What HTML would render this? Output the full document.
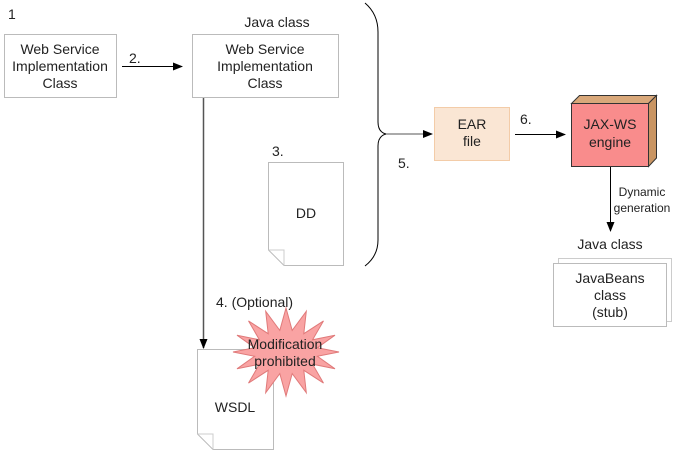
<!DOCTYPE html>
<html><head><meta charset="utf-8"><style>
html,body{margin:0;padding:0;background:#fff;}
svg{display:block;font-family:"Liberation Sans",Arial,sans-serif;}
</style></head><body>
<svg width="675" height="453" viewBox="0 0 675 453" xmlns="http://www.w3.org/2000/svg">
<defs>
<marker id="a" markerWidth="10" markerHeight="8" refX="9" refY="4" orient="auto" markerUnits="userSpaceOnUse">
<path d="M0,0 L10,4 L0,8 z" fill="#000"/></marker>
</defs>
<g font-size="14" fill="#222">
<text x="8" y="19">1</text>
<rect x="4.5" y="34.5" width="112" height="63" fill="#fff" stroke="#bbb"/>
<text x="60" y="54" text-anchor="middle">Web Service</text>
<text x="60" y="71" text-anchor="middle">Implementation</text>
<text x="60" y="88" text-anchor="middle">Class</text>
<text x="129" y="63">2.</text>
<line x1="122" y1="66.5" x2="182" y2="66.5" stroke="#000" marker-end="url(#a)"/>
<text x="277" y="27" text-anchor="middle">Java class</text>
<rect x="192.5" y="34.5" width="146" height="63" fill="#fff" stroke="#bbb"/>
<text x="265" y="54" text-anchor="middle">Web Service</text>
<text x="265" y="71" text-anchor="middle">Implementation</text>
<text x="265" y="88" text-anchor="middle">Class</text>
<line x1="203.5" y1="98" x2="203.5" y2="348" stroke="#555" stroke-width="1.5" marker-end="url(#a)"/>
<text x="272" y="156">3.</text>
<path d="M268.5,162.5 H343.5 V265.5 H284 L268.5,250 Z" fill="#fff" stroke="#bbb"/>
<path d="M268.5,250 L284,250 L284,265.5" fill="none" stroke="#ccc"/>
<text x="306" y="218" text-anchor="middle">DD</text>
<path d="M365,3 Q378,14 378,32 V122 Q378,132 386,134 Q378,136 378,146 V240 Q378,256 365,266" fill="none" stroke="#000"/>
<line x1="386" y1="134" x2="432" y2="134" stroke="#555" marker-end="url(#a)"/>
<text x="398" y="168">5.</text>
<rect x="434.5" y="107.5" width="75" height="53" fill="#fae6d4" stroke="#f3cca8"/>
<text x="472" y="129" text-anchor="middle">EAR</text>
<text x="472" y="146" text-anchor="middle">file</text>
<text x="520" y="124">6.</text>
<line x1="515" y1="134.5" x2="565" y2="134.5" stroke="#000" marker-end="url(#a)"/>
<path d="M571.5,103.5 L579.5,95.5 H656.5 L648.5,103.5 Z" fill="#d9a87a" stroke="#333"/>
<path d="M648.5,103.5 L656.5,95.5 V158 L648.5,166.5 Z" fill="#c99563" stroke="#333"/>
<rect x="571.5" y="103.5" width="77" height="63" fill="#f98c8c" stroke="#333"/>
<text x="610" y="129" text-anchor="middle">JAX-WS</text>
<text x="610" y="147" text-anchor="middle">engine</text>
<line x1="610.5" y1="167" x2="610.5" y2="231" stroke="#000" marker-end="url(#a)"/>
<text x="642" y="196" text-anchor="middle" font-size="12">Dynamic</text>
<text x="642" y="212" text-anchor="middle" font-size="12">generation</text>
<text x="610" y="249" text-anchor="middle">Java class</text>
<rect x="558.5" y="258.5" width="113" height="63" fill="#fff" stroke="#ccc"/>
<rect x="553.5" y="263.5" width="113" height="63" fill="#fff" stroke="#bbb"/>
<text x="610" y="283" text-anchor="middle">JavaBeans</text>
<text x="610" y="300" text-anchor="middle">class</text>
<text x="610" y="317" text-anchor="middle">(stub)</text>
<text x="216" y="307">4. (Optional)</text>
<path d="M197.5,349.5 H273.5 V449.5 H213 L197.5,434 Z" fill="#fff" stroke="#bbb"/>
<path d="M197.5,434 L213,434 L213,449.5" fill="none" stroke="#ccc"/>
<text x="235" y="412" text-anchor="middle">WSDL</text>
<polygon id="star" fill="#f9a3a3" stroke="#e07a7a"/>
<text x="285" y="349" text-anchor="middle">Modification</text>
<text x="285" y="366" text-anchor="middle">prohibited</text>
</g>
<script>
(function(){var cx=286,cy=352,n=16,pts=[];for(var i=0;i<2*n;i++){var r=i%2?32:53,ry=i%2?22:44;var t=Math.PI*i/n-Math.PI/2;pts.push((cx+r*Math.cos(t)).toFixed(1)+","+(cy+ry*Math.sin(t)).toFixed(1));}document.getElementById("star").setAttribute("points",pts.join(" "));})();
</script>
</svg>
</body></html>
